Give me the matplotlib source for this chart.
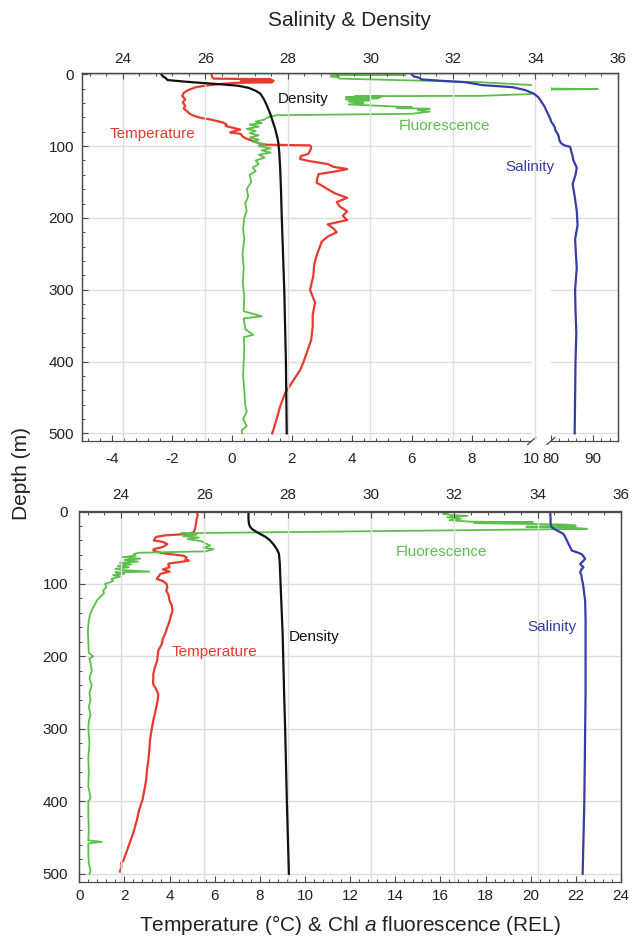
import numpy as np
import matplotlib

matplotlib.use("Agg")
import matplotlib.pyplot as plt
from matplotlib.ticker import MultipleLocator, FixedLocator

plt.rcParams["font.family"] = ["Liberation Sans", "DejaVu Sans"]
plt.rcParams["axes.unicode_minus"] = False
plt.rcParams["mathtext.fontset"] = "custom"
plt.rcParams["mathtext.rm"] = "Liberation Sans"
plt.rcParams["mathtext.it"] = "Liberation Sans:italic"

# ---- upper profile ----
top_temp_depth = [0, 4, 6, 7, 8, 9, 10, 11, 12, 14,
                  16, 18, 22, 26, 30, 35, 39, 44, 48, 51,
                  55, 58, 61, 63, 65, 67, 70, 72, 74, 77,
                  79, 81, 83, 86, 89, 93, 96, 98, 99, 101,
                  106, 111, 114, 118, 121, 125, 129, 132, 135, 139,
                  145, 151, 155, 160, 166, 172, 178, 184, 191, 197,
                  203, 209, 215, 220, 226, 233, 239, 251, 265, 281,
                  300, 318, 335, 351, 370, 388, 400, 412, 426, 444,
                  463, 480, 495, 500]
top_temp = [-0.67, -0.65, -0.6, 1.3, 0.6, 1.4, 0.3, 1.35, 0.1, -0.5,
            -0.9, -1.2, -1.45, -1.6, -1.65, -1.55, -1.63, -1.55, -1.6, -1.5,
            -1.4, -1.25, -1.0, -0.7, -0.5, -0.3, -0.17, -0.2, 0.0, 0.28,
            0.1, -0.05, 0.3, 0.35, 0.45, 0.72, 0.9, 1.0, 2.6, 2.65,
            2.62, 2.55, 2.3, 2.28, 2.6, 3.2, 3.4, 3.85, 3.5, 2.9,
            2.85, 2.83, 3.0, 3.2, 3.45, 3.85, 3.5, 3.6, 3.85, 3.7,
            3.85, 3.2, 3.4, 3.5, 3.2, 3.0, 2.95, 2.84, 2.75, 2.72,
            2.61, 2.78, 2.7, 2.7, 2.65, 2.5, 2.4, 2.28, 2.06, 1.78,
            1.61, 1.5, 1.39, 1.35]

top_fluo_depth = [0, 0.5, 1, 2, 3, 4, 6, 11, 15, 20,
                  20.6, 21.2, 27.5, 30, 30.5, 31, 32, 33.5, 35, 36.5,
                  38, 40, 42, 44, 46, 47, 48, 50, 52, 55,
                  57, 60, 63, 66, 68, 70, 73, 76, 79, 82,
                  85, 88, 91, 94, 97, 100, 103, 106, 109, 112,
                  116, 120, 125, 130, 135, 140, 150, 160, 170, 180,
                  190, 200, 215, 230, 250, 270, 290, 310, 330, 337,
                  340, 355, 363, 366, 380, 400, 420, 440, 460, 470,
                  480, 490, 496, 500]
top_fluo = [3.3, 5.8, 3.4, 3.6, 3.3, 3.5, 3.6, 8.3, 10.0, 80.5,
            91.2, 80.5, 10.0, 8.3, 4.1, 5.0, 3.8, 4.9, 3.8, 4.6,
            3.9, 4.4, 3.9, 5.0, 6.0, 5.5, 6.6, 6.2, 6.6, 6.0,
            1.5, 1.2, 1.1, 0.8, 1.0, 0.6, 0.9, 0.5, 0.8, 0.6,
            0.9, 0.6, 0.9, 0.7, 1.1, 0.9, 1.3, 1.0, 1.3, 0.9,
            1.1, 0.8, 0.9, 0.7, 0.8, 0.6, 0.65, 0.5, 0.55, 0.45,
            0.5, 0.42, 0.38, 0.42, 0.36, 0.4, 0.37, 0.42, 0.4, 1.0,
            0.4, 0.45, 0.72, 0.4, 0.42, 0.4, 0.38, 0.42, 0.45, 0.5,
            0.38, 0.5, 0.33, 0.35]

top_dens_depth = [0, 3, 5, 8, 10, 12, 14, 16, 19, 23,
                  27, 34, 41, 48, 55, 62, 69, 76, 83, 90,
                  97, 110, 130, 160, 200, 250, 300, 350, 400, 450, 500]
top_dens = [24.93, 24.97, 25.03, 25.08, 25.45, 25.9, 26.4, 26.8, 27.05, 27.22,
            27.33, 27.41, 27.47, 27.52, 27.57, 27.61, 27.65, 27.69, 27.72, 27.75,
            27.77, 27.79, 27.81, 27.83, 27.85, 27.88, 27.91, 27.93, 27.95, 27.96, 27.97]

top_sal_depth = [0, 3, 5, 7, 9, 11, 15, 18, 22, 27,
                 32, 37, 45, 55, 62, 66, 70, 74, 78, 82,
                 86, 92, 96, 99, 101, 106, 112, 120, 130, 140,
                 153, 170, 190, 210, 230, 250, 270, 300, 330, 360,
                 400, 450, 500]
top_sal = [31.0, 31.05, 31.2, 31.22, 31.7, 32.3, 32.7, 33.45, 33.75, 33.96,
           34.07, 34.13, 34.22, 34.3, 34.36, 34.38, 34.43, 34.47, 34.48, 34.53,
           34.56, 34.58, 34.62, 34.7, 34.84, 34.86, 34.89, 34.92, 35.0, 34.97,
           34.9, 34.95, 35.0, 35.02, 34.96, 34.98, 35.0, 34.96, 34.97, 34.99,
           34.97, 34.96, 34.95]

# ---- lower profile ----
bot_temp_depth = [0, 5, 10, 15, 20, 25, 29, 31, 33, 35,
                  40, 42, 45, 49, 52, 54, 57, 58, 61, 63,
                  66, 68, 70, 72, 74, 77, 80, 83, 86, 90,
                  93, 96, 100, 105, 109, 115, 123, 130, 137, 145,
                  151, 160, 169, 176, 183, 192, 200, 206, 215, 224,
                  238, 245, 252, 261, 275, 288, 302, 316, 330, 343,
                  357, 371, 385, 398, 412, 426, 444, 463, 478, 482,
                  485, 490, 497]
bot_temp = [5.2, 5.25, 5.2, 5.18, 5.15, 5.12, 5.05, 4.8, 3.8, 3.4,
            3.3, 3.7, 3.9, 3.7, 3.3, 3.28, 3.6, 3.8, 4.6, 4.75,
            4.7, 4.85, 4.4, 3.95, 3.95, 4.0, 3.7, 4.0, 3.6, 3.5,
            3.43, 3.7, 3.87, 3.9, 3.85, 3.95, 4.0, 4.1, 4.13, 4.05,
            4.0, 3.9, 3.8, 3.7, 3.65, 3.5, 3.47, 3.45, 3.35, 3.28,
            3.27, 3.4, 3.5, 3.47, 3.38, 3.28, 3.2, 3.13, 3.1, 3.06,
            3.0, 2.96, 2.88, 2.8, 2.65, 2.55, 2.39, 2.17, 2.0, 1.95,
            1.85, 1.87, 1.8]

bot_fluo_depth = [0, 1, 3, 5, 6, 8, 10, 12, 14, 15,
                  16, 18, 19.5, 21, 22, 24, 30, 32, 34, 36,
                  38, 41, 44, 47, 50, 52, 55, 57, 59, 61,
                  63, 65, 67, 69, 71, 73, 75, 77, 79, 81,
                  83, 84, 86, 88, 90, 93, 96, 100, 104, 109,
                  113, 118, 123, 128, 132, 140, 150, 165, 180, 195,
                  200, 203, 210, 220, 230, 240, 250, 260, 270, 280,
                  290, 300, 320, 340, 360, 380, 395, 400, 420, 440,
                  454, 456, 458, 470, 485, 497, 500]
bot_fluo = [16.6, 16.4, 16.1, 16.5, 17.2, 16.3, 16.9, 16.4, 17.3, 20.1,
            17.5, 21.5, 22.0, 19.8, 21.7, 22.5, 4.5, 5.2, 4.6, 5.3,
            4.8, 5.4, 5.6, 5.8, 5.5, 5.95, 5.6, 2.6, 2.4, 2.5,
            1.9, 2.7, 2.0, 2.6, 1.8, 2.3, 1.7, 2.2, 1.6, 2.0,
            3.1, 1.6, 2.0, 1.5, 1.8, 1.43, 1.5, 1.14, 1.2, 1.06,
            1.1, 0.92, 0.77, 0.7, 0.62, 0.5, 0.42, 0.38, 0.4, 0.42,
            0.62, 0.45, 0.5, 0.55, 0.45, 0.55, 0.45, 0.5, 0.42, 0.5,
            0.42, 0.4, 0.45, 0.4, 0.42, 0.4, 0.5, 0.4, 0.4, 0.42,
            0.4, 1.0, 0.4, 0.4, 0.42, 0.5, 0.45]

bot_dens_depth = [0, 10, 17, 21, 24, 28, 31, 35, 40, 46,
                  52, 58, 70, 100, 169, 261, 300, 398, 500]
bot_dens = [27.06, 27.06, 27.07, 27.1, 27.14, 27.25, 27.34, 27.47, 27.58, 27.67,
            27.74, 27.79, 27.81, 27.83, 27.88, 27.92, 27.94, 27.98, 28.03]

bot_sal_depth = [0, 10, 17, 22, 26, 31, 35, 40, 47, 54,
                 57, 59, 62, 65.5, 69, 72.4, 75, 77, 80, 84,
                 88, 93, 98, 105, 115, 123, 150, 192, 250, 300,
                 350, 400, 450, 500]
bot_sal = [34.3, 34.31, 34.31, 34.34, 34.46, 34.62, 34.66, 34.7, 34.76, 34.82,
           34.98, 35.06, 35.1, 35.14, 35.08, 35.02, 35.06, 35.1, 35.05, 35.02,
           35.05, 35.06, 35.08, 35.1, 35.12, 35.14, 35.15, 35.15, 35.15, 35.14,
           35.13, 35.12, 35.1, 35.08]

top_ticks = [-4, -2, 0, 2, 4, 6, 8, 10, 80, 90]
sal_ticks = [24, 26, 28, 30, 32, 34, 36]
bot_ticks = [0, 2, 4, 6, 8, 10, 12, 14, 16, 18, 20, 22, 24]
depth_ticks = [0, 100, 200, 300, 400, 500]

RED = "#e63b2e"
GREEN = "#5dbf4b"
BLUE = "#373ca6"
BLACK = "#111111"
GRID = "#dddddd"
SPINE = "#4a4a4a"
TXT = "#222222"

W, H = 632, 938

# broken lower scale of the upper panel: -5..10 | gap | 80..96
BRK_VAL = np.array([-5.0, 10.0, 80.0, 96.0])
BRK_POS = np.array([0.0, 0.8391, 0.8751, 1.0])


def piecewise(v, xs, ys):
    v = np.asarray(v, dtype=float)
    out = np.interp(v, xs, ys)
    s0 = (ys[1] - ys[0]) / (xs[1] - xs[0])
    s1 = (ys[-1] - ys[-2]) / (xs[-1] - xs[-2])
    out = np.where(v < xs[0], ys[0] + (v - xs[0]) * s0, out)
    out = np.where(v > xs[-1], ys[-1] + (v - xs[-1]) * s1, out)
    return out


def fwd(v):
    return piecewise(v, BRK_VAL, BRK_POS)


def inv(p):
    return piecewise(p, BRK_POS, BRK_VAL)


def px(x, y):
    return x / W, 1 - y / H


def style(ax, tw, ypad, top_pad, bot_pad):
    for sp in ax.spines.values():
        sp.set_color(SPINE)
        sp.set_linewidth(0.9)
    for sp in tw.spines.values():
        sp.set_color(SPINE)
        sp.set_linewidth(0.9)
    tw.spines["bottom"].set_visible(False)
    ax.set_yticks(depth_ticks)
    ax.yaxis.set_minor_locator(MultipleLocator(20))
    ax.tick_params(axis="y", which="both", direction="in", left=True, right=False,
                   colors=SPINE, labelcolor=TXT, labelsize=11, pad=ypad)
    ax.tick_params(axis="x", which="both", direction="in", top=False, bottom=True,
                   colors=SPINE, labelcolor=TXT, labelsize=11, pad=bot_pad)
    tw.tick_params(axis="x", which="both", direction="in", top=True, bottom=False,
                   labeltop=True, labelbottom=False,
                   colors=SPINE, labelcolor=TXT, labelsize=11, pad=top_pad)
    for a in (ax, tw):
        a.tick_params(which="major", length=4, width=0.8)
        a.tick_params(which="minor", length=2.5, width=0.7)
    ax.yaxis.grid(True, color=GRID, lw=1.0)
    ax.set_axisbelow(True)
    tw.set_xlim(23, 36)
    tw.set_xticks(sal_ticks)
    tw.xaxis.set_minor_locator(MultipleLocator(0.4))
    tw.xaxis.grid(True, color=GRID, lw=1.0)


fig = plt.figure(figsize=(W / 100, H / 100), dpi=100)

# ---------------- upper panel ----------------
ax1 = fig.add_axes([81.7 / W, 1 - 441 / H, (618 - 81.7) / W, 368 / H])
ax1.set_xscale("function", functions=(fwd, inv))
tw1 = ax1.twiny()
ax1.set_xlim(-5, 96)
ax1.set_ylim(510.7, -1.8)
ax1.xaxis.set_major_locator(FixedLocator(top_ticks))
ax1.xaxis.set_minor_locator(FixedLocator(list(np.arange(-4.8, 10.01, 0.4)) + list(range(82, 97, 2))))
style(ax1, tw1, ypad=5.5, top_pad=5.0, bot_pad=8.0)

ax1.plot(top_temp, top_temp_depth, color=RED, lw=1.6, zorder=2)
ax1.plot(top_fluo, top_fluo_depth, color=GREEN, lw=1.3, zorder=2)
tw1.plot(top_dens, top_dens_depth, color=BLACK, lw=1.6)
tw1.plot(top_sal, top_sal_depth, color=BLUE, lw=1.6)

# white gap of the broken axis
ax1.axvspan(10, 80, ymin=-0.006, ymax=0.985, color="white", lw=0, zorder=3, clip_on=False)
for xb in BRK_POS[1:3]:
    ax1.plot([xb - 0.0075, xb + 0.0075], [-0.0095, 0.0095], color=SPINE, lw=0.9,
             transform=ax1.transAxes, clip_on=False, zorder=4)

# ---------------- lower panel ----------------
ax2 = fig.add_axes([79.3 / W, 1 - 881.7 / H, (621 - 79.3) / W, (881.7 - 511.5) / H])
tw2 = ax2.twiny()
ax2.set_xlim(0, 24)
ax2.set_ylim(511, 0)
ax2.set_xticks(bot_ticks)
ax2.xaxis.set_minor_locator(MultipleLocator(0.4))
style(ax2, tw2, ypad=8.0, top_pad=7.0, bot_pad=5.5)

ax2.plot(bot_temp, bot_temp_depth, color=RED, lw=1.6, zorder=2)
ax2.plot(bot_fluo, bot_fluo_depth, color=GREEN, lw=1.3, zorder=2)
tw2.plot(bot_dens, bot_dens_depth, color=BLACK, lw=1.6)
tw2.plot(bot_sal, bot_sal_depth, color=BLUE, lw=1.6)

# ---------------- labels ----------------
fig.text(*px(350, 21), "Salinity & Density", ha="center", va="center", fontsize=15, color=TXT)
fig.text(*px(22, 473), "Depth (m)", ha="center", va="center", rotation=90, fontsize=15, color=TXT)
fig.text(*px(350, 925), "Temperature (°C) & Chl $\\mathit{a}$ fluorescence (REL)",
         ha="center", va="center", fontsize=15, color=TXT)

fig.text(*px(303, 99), "Density", ha="center", va="center", fontsize=11, color=BLACK)
fig.text(*px(153, 134), "Temperature", ha="center", va="center", fontsize=11, color=RED)
fig.text(*px(445, 126), "Fluorescence", ha="center", va="center", fontsize=11, color=GREEN)
fig.text(*px(530, 167), "Salinity", ha="center", va="center", fontsize=11, color=BLUE)

fig.text(*px(442, 552), "Fluorescence", ha="center", va="center", fontsize=11, color=GREEN)
fig.text(*px(552, 627), "Salinity", ha="center", va="center", fontsize=11, color=BLUE)
fig.text(*px(215, 652), "Temperature", ha="center", va="center", fontsize=11, color=RED)
fig.text(*px(314, 637), "Density", ha="center", va="center", fontsize=11, color=BLACK)

fig.savefig("out.png", dpi=100)
